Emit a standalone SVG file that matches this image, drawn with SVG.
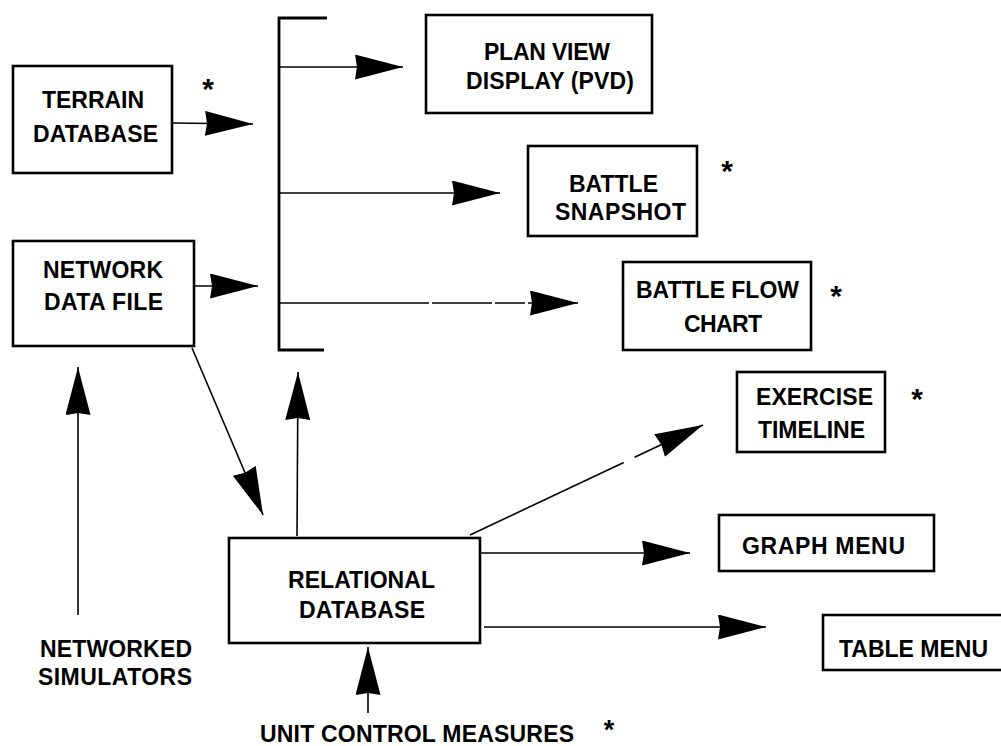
<svg xmlns="http://www.w3.org/2000/svg" width="1001" height="746" viewBox="0 0 1001 746">
<style>
.box{fill:#fff;stroke:#000;stroke-width:2.6}
.t{font-family:"Liberation Sans",Arial,sans-serif;font-weight:bold;font-size:23px;fill:#000;text-anchor:middle}
.ast{font-family:"Liberation Sans",Arial,sans-serif;font-weight:bold;font-size:30px;fill:#000;text-anchor:middle}
.c{fill:none;stroke:#000;stroke-width:1.6}
.br{fill:none;stroke:#000;stroke-width:2.8}
</style>
<defs>
<marker id="ah" viewBox="0 0 48 25" refX="48" refY="12.5" markerWidth="48" markerHeight="25" markerUnits="userSpaceOnUse" orient="auto">
<polygon points="0,0 48,12.5 0,25 2,12.5" fill="#000"/>
</marker>
</defs>
<rect width="1001" height="746" fill="#fff"/>
<g id="terrain"><rect class="box" x="13" y="66" width="159" height="107"/><text class="t" x="93" y="108" textLength="102">TERRAIN</text><text class="t" x="95.5" y="142" textLength="125">DATABASE</text></g>
<g id="network"><rect class="box" x="13" y="241" width="181" height="105"/><text class="t" x="103" y="278" textLength="120">NETWORK</text><text class="t" x="103.5" y="310" textLength="119">DATA FILE</text></g>
<g id="pvd"><rect class="box" x="426" y="15" width="226" height="98"/><text class="t" x="547" y="60" textLength="126">PLAN VIEW</text><text class="t" x="550" y="89" textLength="168">DISPLAY (PVD)</text></g>
<g id="snapshot"><rect class="box" x="528" y="146" width="169" height="90"/><text class="t" x="613.5" y="192" textLength="89">BATTLE</text><text class="t" x="620.5" y="220" textLength="131">SNAPSHOT</text></g>
<g id="flowchart"><rect class="box" x="623" y="262" width="188" height="88"/><text class="t" x="717.5" y="298" textLength="163">BATTLE FLOW</text><text class="t" x="723" y="332" textLength="78">CHART</text></g>
<g id="timeline"><rect class="box" x="737" y="372" width="148" height="80"/><text class="t" x="814.5" y="405" textLength="117">EXERCISE</text><text class="t" x="811.5" y="438" textLength="107">TIMELINE</text></g>
<g id="graphmenu"><rect class="box" x="719" y="515" width="215" height="56"/><text class="t" x="823.5" y="554" textLength="163">GRAPH MENU</text></g>
<g id="tablemenu"><rect class="box" x="823" y="615" width="190" height="55"/><text class="t" x="913.5" y="657" textLength="149">TABLE MENU</text></g>
<g id="relational"><rect class="box" x="229" y="538" width="251" height="105"/><text class="t" x="361.5" y="588" textLength="147">RELATIONAL</text><text class="t" x="362" y="618" textLength="126">DATABASE</text></g>
<g id="simulators"><text class="t" x="116" y="657" textLength="152">NETWORKED</text><text class="t" x="115" y="685" textLength="154">SIMULATORS</text></g>
<g id="unitcontrol"><text class="t" x="417" y="742" textLength="314">UNIT CONTROL MEASURES</text></g>
<g id="asterisks">
<text class="ast" x="208" y="99">*</text>
<text class="ast" x="727" y="181">*</text>
<text class="ast" x="836" y="306">*</text>
<text class="ast" x="917" y="409">*</text>
<text class="ast" x="609" y="739" style="font-size:27px">*</text>
</g>
<g id="connectors">
<path class="br" d="M327,18 L279,18 L279,350 L324,350"/>
<line class="c" x1="172" y1="123" x2="253" y2="124" marker-end="url(#ah)"/>
<line class="c" x1="194" y1="286" x2="258" y2="286" marker-end="url(#ah)"/>
<line class="c" x1="279" y1="67" x2="403" y2="67" marker-end="url(#ah)"/>
<line class="c" x1="279" y1="193" x2="500" y2="193" marker-end="url(#ah)"/>
<line class="c" x1="279" y1="303" x2="578" y2="303" stroke-dasharray="150 3 60 3 30 3" marker-end="url(#ah)"/>
<line class="c" x1="78" y1="615" x2="78" y2="367" marker-end="url(#ah)"/>
<line class="c" x1="192" y1="348" x2="263" y2="515" marker-end="url(#ah)"/>
<line class="c" x1="297" y1="536" x2="298" y2="372" marker-end="url(#ah)"/>
<line class="c" x1="368" y1="713" x2="368" y2="647" marker-end="url(#ah)"/>
<line class="c" x1="470" y1="535" x2="703" y2="425" stroke-dasharray="170 12 100" marker-end="url(#ah)"/>
<line class="c" x1="480" y1="553" x2="690" y2="553" marker-end="url(#ah)"/>
<line class="c" x1="484" y1="627" x2="766" y2="627" marker-end="url(#ah)"/>
</g>
</svg>
